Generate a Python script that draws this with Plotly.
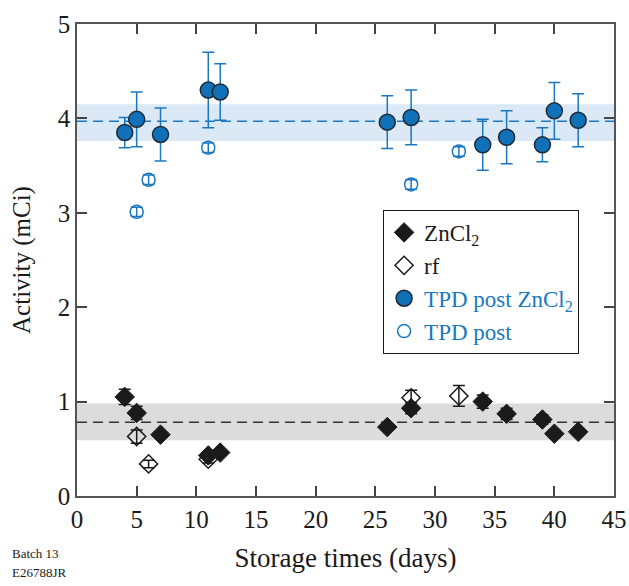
import plotly.graph_objects as go

# ---- data ----
days_tpd_zn = [4, 5, 7, 11, 12, 26, 28, 34, 36, 39, 40, 42]
act_tpd_zn = [3.85, 3.99, 3.83, 4.30, 4.28, 3.96, 4.01, 3.72, 3.80, 3.72, 4.08, 3.98]
err_tpd_zn = [0.16, 0.29, 0.28, 0.40, 0.30, 0.28, 0.29, 0.27, 0.28, 0.18, 0.30, 0.28]

days_tpd = [5, 6, 11, 28, 32]
act_tpd = [3.01, 3.35, 3.69, 3.30, 3.65]
err_tpd = [0.05, 0.05, 0.05, 0.05, 0.05]

days_zn = [4, 5, 7, 11, 12, 26, 28, 34, 36, 39, 40, 42]
act_zn = [1.05, 0.88, 0.65, 0.43, 0.46, 0.73, 0.93, 1.00, 0.87, 0.81, 0.66, 0.68]
err_zn = [0.08, 0.07, 0.03, 0.03, 0.03, 0.03, 0.06, 0.07, 0.06, 0.05, 0.04, 0.04]

days_rf = [5, 6, 11, 28, 32]
act_rf = [0.63, 0.34, 0.39, 1.04, 1.06]
err_rf = [0.07, 0.04, 0.04, 0.08, 0.11]

band_tpd = (3.76, 4.15)
mean_tpd = 3.97
band_zn = (0.59, 0.98)
mean_zn = 0.78

x_ticks = list(range(0, 46, 5))
y_ticks = [0, 1, 2, 3, 4, 5]

BLUE = "#1b78c0"
BLACK = "#1a1a1a"
FONT = "Liberation Serif"

fig = go.Figure()

# bands and mean lines
fig.add_shape(type="rect", xref="paper", x0=0, x1=1, y0=band_tpd[0], y1=band_tpd[1],
              fillcolor="#dbe8f5", line_width=0, layer="below")
fig.add_shape(type="rect", xref="paper", x0=0, x1=1, y0=band_zn[0], y1=band_zn[1],
              fillcolor="#dcdcdc", line_width=0, layer="below")
fig.add_shape(type="line", xref="paper", x0=0, x1=1, y0=mean_tpd, y1=mean_tpd,
              line=dict(color=BLUE, width=1.5, dash="10px,6px"), layer="below")
fig.add_shape(type="line", xref="paper", x0=0, x1=1, y0=mean_zn, y1=mean_zn,
              line=dict(color="#333333", width=1.5, dash="10px,6px"), layer="below")

fig.add_trace(go.Scatter(
    x=days_rf, y=act_rf, mode="markers", name="rf", legendrank=2,
    marker=dict(symbol="diamond-open", size=14, color=BLACK, line=dict(width=1.5, color=BLACK)),
    error_y=dict(type="data", array=err_rf, color=BLACK, thickness=1.5, width=6)))
fig.add_trace(go.Scatter(
    x=days_tpd, y=act_tpd, mode="markers",
    name=f"<span style='color:{BLUE}'>TPD post</span>", legendrank=4,
    marker=dict(symbol="circle-open", size=13, color=BLUE, line=dict(width=1.5, color=BLUE)),
    error_y=dict(type="data", array=err_tpd, color=BLUE, thickness=1.5, width=6)))
fig.add_trace(go.Scatter(
    x=days_zn, y=act_zn, mode="markers", name="ZnCl<sub>2</sub>", legendrank=1,
    marker=dict(symbol="diamond", size=15, color=BLACK, line=dict(width=1, color=BLACK)),
    error_y=dict(type="data", array=err_zn, color=BLACK, thickness=1.5, width=6)))
fig.add_trace(go.Scatter(
    x=days_tpd_zn, y=act_tpd_zn, mode="markers",
    name=f"<span style='color:{BLUE}'>TPD post ZnCl<sub>2</sub></span>", legendrank=3,
    marker=dict(symbol="circle", size=16, color="#1070b8", line=dict(width=1.5, color="#1e2a36")),
    error_y=dict(type="data", array=err_tpd_zn, color=BLUE, thickness=1.5, width=6)))

axis_common = dict(showline=True, linecolor="#555555", linewidth=1.5, mirror="ticks",
                   ticks="inside", ticklen=10, tickwidth=1.5, tickcolor="#444444",
                   showgrid=False, zeroline=False, automargin=False,
                   tickfont=dict(family=FONT, size=25, color=BLACK))

fig.update_xaxes(range=[0, 45], tickvals=x_ticks,
                 title=dict(text="Storage times (days)", font=dict(family=FONT, size=27, color=BLACK), standoff=16),
                 **axis_common)
fig.update_yaxes(range=[0, 5], tickvals=y_ticks,
                 title=dict(text="Activity (mCi)", font=dict(family=FONT, size=25, color=BLACK), standoff=20),
                 **axis_common)

fig.add_annotation(text="Batch 13", xref="paper", yref="paper", x=-0.124, y=-0.121,
                   xanchor="left", yanchor="middle", showarrow=False,
                   font=dict(family=FONT, size=13, color=BLACK))
fig.add_annotation(text="E26788JR", xref="paper", yref="paper", x=-0.124, y=-0.163,
                   xanchor="left", yanchor="middle", showarrow=False,
                   font=dict(family=FONT, size=13, color=BLACK))

fig.update_layout(
    width=629, height=586,
    margin=dict(l=77, r=15, t=24, b=90, autoexpand=False),
    plot_bgcolor="white", paper_bgcolor="white",
    font=dict(family=FONT, color=BLACK),
    legend=dict(x=0.57, y=0.606, xanchor="left", yanchor="top",
                bgcolor="white", bordercolor=BLACK, borderwidth=1,
                font=dict(family=FONT, size=23, color=BLACK),
                tracegroupgap=0, itemwidth=30),
    showlegend=True,
)

fig.write_html("out.html", config={"displayModeBar": False},
               post_script="document.body.style.margin='0';")
